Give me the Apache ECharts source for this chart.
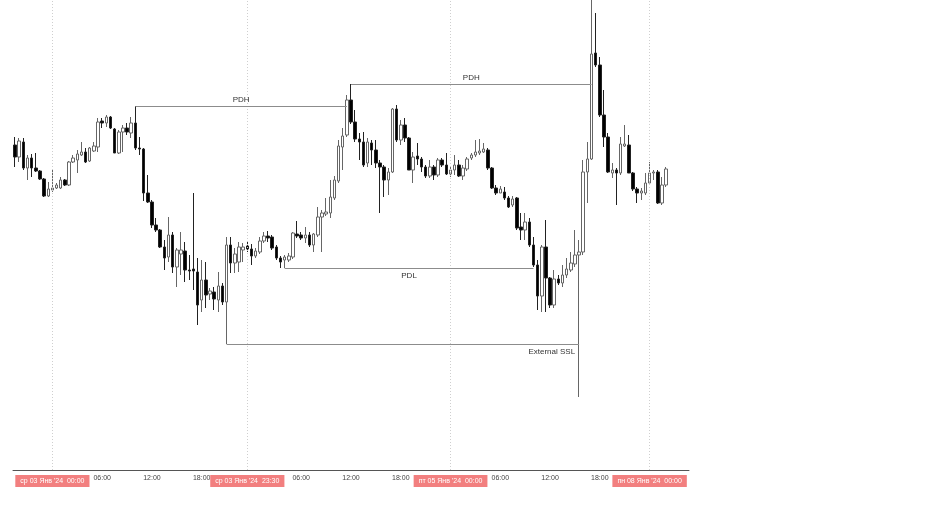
<!DOCTYPE html>
<html><head><meta charset="utf-8">
<script src="https://cdn.jsdelivr.net/npm/echarts@6/dist/echarts.min.js"></script>
<style>html,body{margin:0;padding:0;background:#fff}#c{width:940px;height:507px}</style>
</head><body><div id="c"></div>
<script>
// [open, close, low, high]
const candles = [
[325,313,303,333],[313,329,308,332],[328,302,300,332],[302,312,290,315],[312,302,293,316],
[302,299,298,317],[299,291,290,300],[291,274,273,292],[274,281,273,288],[280,282,278,300],
[282,285,281,287],[282,290,281,293],[290,285,284,291],[285,308,284,309],[308,312,307,315],
[310,316,297,320],[315,318,314,328],[318,308,307,322],[309,322,308,323],[319,324,318,328],
[323,348,318,352],[349,347,342,352],[347,353,343,355],[353,342,341,354],[341,317,317,342],
[317,338,316,340],[338,342,318,345],[342,338,335,347],[337,347,332,353],[347,322,320,364],
[322,321,315,333],[321,277,269,322],[277,268,267,295],[268,245,242,270],[245,240,238,252],
[240,223,222,241],[223,212,200,230],[213,235,208,253],[235,203,197,238],[203,220,183,222],
[216,220,195,238],[219,200,188,228],[200,199,190,215],[201,199,180,277],[198,165,145,212],
[170,190,158,210],[190,175,162,208],[176,179,170,182],[178,171,160,183],[170,184,158,198],
[184,168,165,187],[168,225,126,233],[225,207,197,233],[207,216,197,222],[208,223,198,228],
[220,223,208,227],[224,221,218,228],[221,214,205,226],[214,219,212,222],[218,229,216,233],
[229,234,227,238],[234,232,228,239],[233,222,220,235],[223,212,210,225],[212,208,202,214],
[210,213,202,215],[210,214,208,217],[213,237,211,238],[236,234,232,249],[235,232,230,238],
[232,235,227,243],[235,225,223,238],[225,236,218,237],[235,253,233,263],[253,257,218,260],
[256,258,254,272],[257,273,252,290],[272,290,270,294],[289,324,287,330],[323,334,300,342],
[335,370,333,375],[370,348,346,386],[348,331,328,360],[331,328,310,337],[328,305,303,338],
[307,328,303,332],[327,320,305,330],[320,307,302,330],[307,303,257,310],[303,290,273,305],
[290,298,275,302],[298,361,297,362],[361,330,328,365],[330,345,325,350],[345,332,328,352],
[332,300,300,333],[300,313,287,318],[314,311,305,327],[311,303,298,313],[303,294,292,305],
[294,303,292,310],[303,295,290,305],[295,310,293,312],[310,305,303,312],[305,296,295,317],
[296,300,293,303],[300,305,295,315],[305,294,293,310],[294,302,290,305],[301,311,299,313],
[312,315,310,317],[315,318,313,330],[317,319,315,331],[318,321,317,327],[320,302,300,322],
[302,282,281,303],[282,277,275,285],[277,281,277,284],[278,272,270,283],[272,263,262,274],
[265,271,263,274],[272,242,240,273],[243,240,230,257],[240,248,230,257],[248,225,223,252],
[225,205,203,233],[205,174,160,210],[174,223,158,225],[223,192,158,250],[192,165,162,193],
[165,191,162,200],[191,187,185,195],[187,195,183,205],[195,201,192,212],[200,207,198,218],
[206,215,203,240],[215,218,73,230],[218,298,215,310],[298,311,267,328],[311,416,310,470],
[417,405,403,457],[405,355,353,413],[355,333,323,380],[333,298,297,337],[297,300,292,307],
[300,297,265,302],[297,326,295,333],[324,326,323,345],[325,297,297,335],[297,281,279,298],
[281,277,267,283],[277,279,270,282],[277,287,275,297],[287,297,287,308],[297,298,290,300],
[298,267,266,300],[267,285,265,293],[285,301,283,303]
];
const slotCount = 163;
const categories = Array.from({length: slotCount}, (_, i) => String(i));
const tickLabels = [
  [9, "ср 03 Янв '24  00:00", true], [21, "06:00", false], [33, "12:00", false], [45, "18:00", false],
  [56, "ср 03 Янв '24  23:30", true], [69, "06:00", false], [81, "12:00", false], [93, "18:00", false],
  [105, "пт 05 Янв '24  00:00", true], [117, "06:00", false], [129, "12:00", false], [141, "18:00", false],
  [153, "пн 08 Янв '24  00:00", true]
];
const dayLines = [9, 56, 105, 153];
const levelNames = ["PDH", "PDH", "PDL", "External SSL"];
const levelFrom = [29, 81, 65, 51];
const levelTo = [80, 139, 125, 136];
const levelValues = [364, 386, 202, 126];
const labelPos = {"PDH": "middle", "PDL": "insideMiddleBottom", "External SSL": "insideEndBottom"};
const labelDist = {"PDH": 2, "PDL": 4, "External SSL": 4};

const labelMap = {};
tickLabels.forEach(t => { labelMap[t[0]] = t; });
const FONT = "'Liberation Sans', Arial, sans-serif";

const mlData = [];
dayLines.forEach(d => mlData.push({
  xAxis: categories[d],
  lineStyle: {color: '#cfcfcf', type: [1, 2], width: 1},
  label: {show: false}
}));
levelNames.forEach((n, k) => mlData.push([
  {coord: [categories[levelFrom[k]], levelValues[k]], name: n,
   label: {show: true, position: labelPos[n], formatter: '{b}', distance: labelDist[n]}},
  {coord: [categories[levelTo[k]], levelValues[k]]}
]));

const chart = echarts.init(document.getElementById('c'), null, {renderer: 'canvas'});
chart.setOption({
  animation: false,
  backgroundColor: '#ffffff',
  grid: {left: 13, right: 251, top: 0, bottom: 37},
  xAxis: {
    type: 'category',
    data: categories,
    boundaryGap: true,
    axisLine: {lineStyle: {color: '#555', width: 1}},
    axisTick: {show: false},
    splitLine: {show: false},
    axisLabel: {
      interval: (idx) => labelMap[idx] !== undefined,
      margin: 5,
      fontSize: 7,
      color: '#444',
      fontFamily: FONT,
      hideOverlap: false,
      formatter: (val, idx) => {
        const t = labelMap[idx];
        if (!t) return '';
        return t[2] ? '{hl|' + t[1] + '}' : t[1];
      },
      rich: {
        hl: {backgroundColor: '#f27f7f', color: '#ffffff', fontSize: 7, fontFamily: FONT,
             padding: [3, 5, 2, 5]}
      }
    }
  },
  yAxis: {type: 'value', min: 0, max: 470, show: false, splitLine: {show: false}},
  series: [{
    type: 'candlestick',
    data: candles,
    barWidth: 3,
    itemStyle: {
      color: '#ffffff', color0: '#000000',
      borderColor: '#666666', borderColor0: '#222222', borderWidth: 1
    },
    markLine: {
      silent: true,
      animation: false,
      symbol: ['none', 'none'],
      lineStyle: {color: '#8c8c8c', width: 1, type: 'solid'},
      label: {fontSize: 8, color: '#333', fontFamily: FONT, formatter: '{b}'},
      emphasis: {disabled: true},
      data: mlData
    }
  }]
});
</script></body></html>
